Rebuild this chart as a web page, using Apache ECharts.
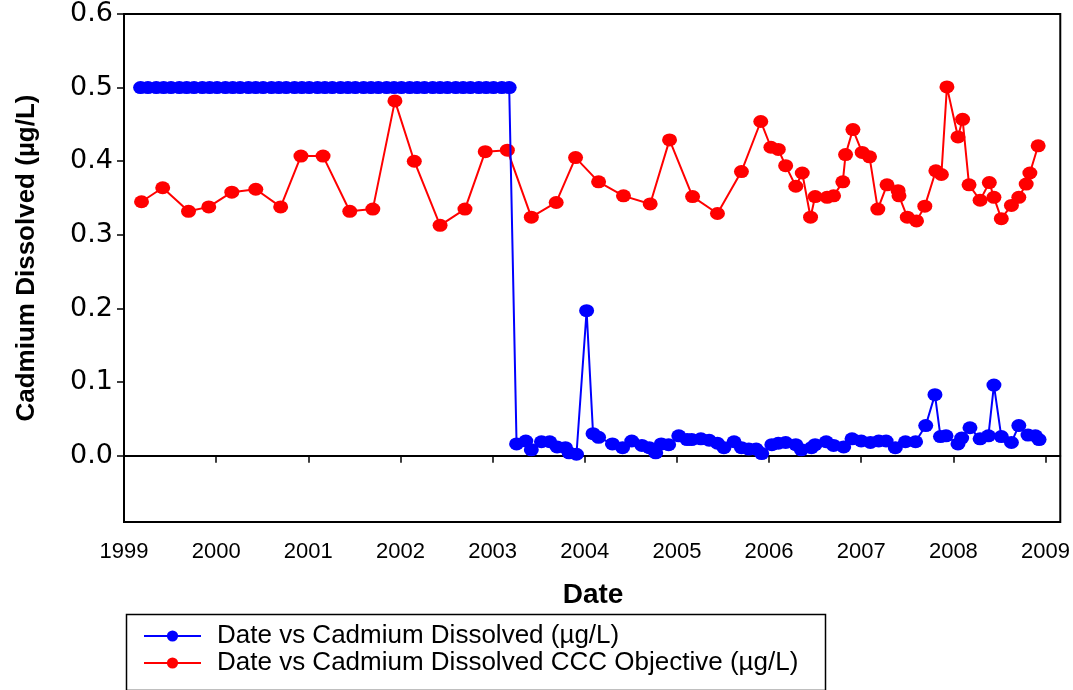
<!DOCTYPE html>
<html>
<head>
<meta charset="utf-8">
<script src="https://cdn.jsdelivr.net/npm/echarts@6/dist/echarts.min.js"></script>
<style>
html,body{margin:0;padding:0;background:#fff;}
#chart{width:1073px;height:690px;}
</style>
</head>
<body>
<div id="chart"></div>
<script>
// ---- data ----
const seriesNames = ['Date vs Cadmium Dissolved (µg/L)', 'Date vs Cadmium Dissolved CCC Objective (µg/L)'];
const xTitle = 'Date';
const yTitle = 'Cadmium Dissolved (µg/L)';
const xTicks = [1999, 2000, 2001, 2002, 2003, 2004, 2005, 2006, 2007, 2008, 2009];
const yTicks = [0.0, 0.1, 0.2, 0.3, 0.4, 0.5, 0.6];

const blueDates = [
  1999.18, 1999.26, 1999.35, 1999.43, 1999.51, 1999.60, 1999.68, 1999.76, 1999.85, 1999.93,
  2000.01, 2000.10, 2000.18, 2000.26, 2000.35, 2000.43, 2000.51, 2000.60, 2000.68, 2000.76, 2000.85, 2000.93,
  2001.01, 2001.10, 2001.18, 2001.26, 2001.35, 2001.43, 2001.51, 2001.60, 2001.68, 2001.76, 2001.85, 2001.93,
  2002.01, 2002.10, 2002.18, 2002.26, 2002.35, 2002.43, 2002.51, 2002.60, 2002.68, 2002.76, 2002.85, 2002.93,
  2003.01, 2003.10, 2003.18,
  2003.26, 2003.36, 2003.42, 2003.53, 2003.62, 2003.70, 2003.79, 2003.83, 2003.91, 2004.02,
  2004.09, 2004.15, 2004.30, 2004.41, 2004.51, 2004.62, 2004.70, 2004.77, 2004.83, 2004.91,
  2005.02, 2005.11, 2005.16, 2005.26, 2005.35, 2005.44, 2005.51, 2005.62, 2005.70, 2005.78,
  2005.86, 2005.92, 2006.03, 2006.10, 2006.18, 2006.29, 2006.35, 2006.46, 2006.50, 2006.62,
  2006.70, 2006.81, 2006.90, 2007.00, 2007.10, 2007.19, 2007.27, 2007.37, 2007.48, 2007.59,
  2007.70, 2007.80, 2007.86, 2007.92, 2008.05, 2008.09, 2008.18, 2008.29, 2008.38, 2008.44,
  2008.52, 2008.63, 2008.71, 2008.81, 2008.89, 2008.93
];
const blueValues = [
  0.5, 0.5, 0.5, 0.5, 0.5, 0.5, 0.5, 0.5, 0.5, 0.5,
  0.5, 0.5, 0.5, 0.5, 0.5, 0.5, 0.5, 0.5, 0.5, 0.5, 0.5, 0.5,
  0.5, 0.5, 0.5, 0.5, 0.5, 0.5, 0.5, 0.5, 0.5, 0.5, 0.5, 0.5,
  0.5, 0.5, 0.5, 0.5, 0.5, 0.5, 0.5, 0.5, 0.5, 0.5, 0.5, 0.5,
  0.5, 0.5, 0.5,
  0.016, 0.020, 0.008, 0.019, 0.019, 0.012, 0.011, 0.004, 0.002, 0.197,
  0.030, 0.025, 0.016, 0.011, 0.020, 0.014, 0.011, 0.004, 0.016, 0.015,
  0.027, 0.022, 0.022, 0.023, 0.021, 0.017, 0.011, 0.019, 0.011, 0.009,
  0.009, 0.003, 0.015, 0.017, 0.018, 0.015, 0.008, 0.011, 0.015, 0.019,
  0.014, 0.012, 0.023, 0.020, 0.018, 0.020, 0.020, 0.011, 0.019, 0.019,
  0.041, 0.083, 0.026, 0.027, 0.016, 0.024, 0.038, 0.023, 0.027, 0.096,
  0.026, 0.018, 0.041, 0.028, 0.027, 0.022
];

const redDates = [
  1999.19, 1999.42, 1999.70, 1999.92, 2000.17, 2000.43, 2000.70, 2000.92, 2001.16, 2001.45,
  2001.70, 2001.94, 2002.15, 2002.43, 2002.70, 2002.92, 2003.16, 2003.42, 2003.69, 2003.90,
  2004.15, 2004.42, 2004.71, 2004.92, 2005.17, 2005.44, 2005.70, 2005.91, 2006.02, 2006.10,
  2006.18, 2006.29, 2006.36, 2006.45, 2006.50, 2006.63, 2006.70, 2006.80, 2006.83, 2006.91,
  2007.01, 2007.09, 2007.18, 2007.28, 2007.40, 2007.41, 2007.50, 2007.60, 2007.69, 2007.81,
  2007.87, 2007.93, 2008.05, 2008.10, 2008.17, 2008.29, 2008.39, 2008.44, 2008.52, 2008.63,
  2008.71, 2008.79, 2008.83, 2008.92
];
const redValues = [
  0.345, 0.364, 0.332, 0.338, 0.358, 0.362, 0.338, 0.407, 0.407, 0.332,
  0.335, 0.482, 0.400, 0.313, 0.335, 0.413, 0.415, 0.324, 0.344, 0.405,
  0.372, 0.353, 0.342, 0.429, 0.352, 0.329, 0.386, 0.454, 0.419, 0.416,
  0.394, 0.366, 0.384, 0.324, 0.352, 0.351, 0.353, 0.372, 0.409, 0.443,
  0.412, 0.406, 0.335, 0.368, 0.360, 0.353, 0.324, 0.319, 0.339, 0.387,
  0.382, 0.501, 0.433, 0.457, 0.368, 0.347, 0.371, 0.351, 0.322, 0.340,
  0.351, 0.369, 0.384, 0.421
];

// ---- chart ----
const zip = (xs, ys) => xs.map((x, i) => [x, ys[i]]);
const chart = echarts.init(document.getElementById('chart'), null, {renderer: 'canvas'});

const axisBase = {
  axisLine: {show: true, lineStyle: {color: '#000', width: 2}},
  axisTick: {show: true, inside: false, length: 7, lineStyle: {color: '#000', width: 1.5}},
  splitLine: {show: false}
};

chart.setOption({
  animation: false,
  backgroundColor: '#fff',
  grid: {left: 124, right: 11, top: 14, bottom: 168, show: true, borderColor: '#000', borderWidth: 2, backgroundColor: 'transparent'},
  xAxis: Object.assign({}, axisBase, {
    type: 'value', min: 1999, max: 2009.16,
    axisTick: Object.assign({}, axisBase.axisTick, {customValues: xTicks}),
    axisLabel: {customValues: xTicks, color: '#000', fontSize: 22, margin: 19,
      fontFamily: "'Liberation Sans Narrow', 'Arial Narrow', 'Liberation Sans', Arial, sans-serif",
      formatter: v => String(Math.round(v))}
  }),
  yAxis: Object.assign({}, axisBase, {
    type: 'value', min: -0.09, max: 0.6,
    axisTick: Object.assign({}, axisBase.axisTick, {customValues: yTicks}),
    axisLabel: {customValues: yTicks, color: '#000', fontSize: 27, margin: 11,
      fontFamily: "'DejaVu Sans', sans-serif",
      formatter: v => v.toFixed(1)}
  }),
  legend: {
    data: [seriesNames[0], seriesNames[1]],
    orient: 'vertical', left: 143, top: 623,
    itemWidth: 57, itemHeight: 14, itemGap: 1,
    padding: 0,
    textStyle: {color: '#000', fontSize: 26, lineHeight: 26, padding: [0, 0, 0, 11],
      fontFamily: "'Liberation Sans', Arial, sans-serif"}
  },
  graphic: [
    {
      type: 'rect', left: 124, top: 612, z: -1,
      shape: {width: 699, height: 76},
      style: {fill: 'none', stroke: '#000', lineWidth: 1.5}
    },
    {
      type: 'text', x: 593, y: 595,
      style: {text: xTitle, fill: '#000', font: "bold 28px 'Liberation Sans', Arial, sans-serif", align: 'center', verticalAlign: 'middle'}
    },
    {
      type: 'text', x: 27, y: 258, rotation: Math.PI / 2,
      style: {text: yTitle, fill: '#000', font: "bold 26px 'Liberation Sans Narrow', 'Liberation Sans', Arial, sans-serif", align: 'center', verticalAlign: 'middle'}
    }
  ],
  series: [
    {
      name: seriesNames[1], type: 'line', data: zip(redDates, redValues),
      symbol: 'circle', symbolSize: [15, 13], showAllSymbol: true,
      lineStyle: {color: '#ff0000', width: 2}, itemStyle: {color: '#ff0000'}, z: 2
    },
    {
      name: seriesNames[0], type: 'line', data: zip(blueDates, blueValues),
      symbol: 'circle', symbolSize: [15, 13], showAllSymbol: true,
      lineStyle: {color: '#0000ff', width: 2}, itemStyle: {color: '#0000ff'}, z: 3
    }
  ]
});
</script>
</body>
</html>
